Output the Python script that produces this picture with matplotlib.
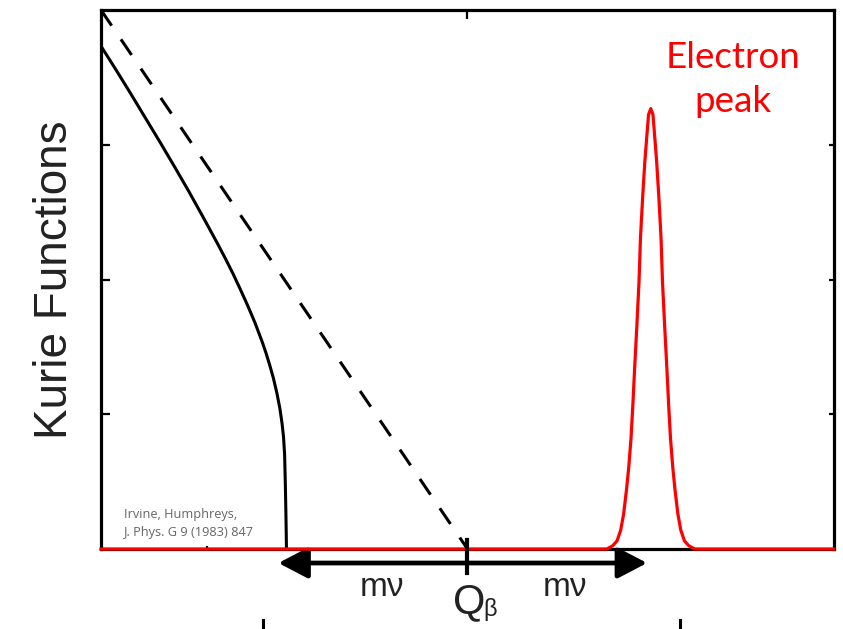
import matplotlib
matplotlib.use("Agg")
import matplotlib.pyplot as plt
from matplotlib.lines import Line2D

# Kurie function with non-zero neutrino mass (ends at Q - m_nu)
kurie_E = [0.000, 0.020, 0.040, 0.060, 0.080, 0.100, 0.120, 0.140, 0.160, 0.170,
           0.180, 0.190, 0.200, 0.210, 0.220, 0.225, 0.230, 0.235, 0.240, 0.244,
           0.247, 0.249, 0.2505, 0.2515, 0.2522, 0.2527, 0.2530]
kurie_K = [0.933, 0.890, 0.846, 0.801, 0.756, 0.710, 0.663, 0.614, 0.564, 0.538,
           0.511, 0.482, 0.452, 0.420, 0.384, 0.364, 0.342, 0.318, 0.289, 0.261,
           0.233, 0.208, 0.175, 0.120, 0.070, 0.030, 0.000]

# massless case: straight line down to Q_beta
massless_E = [0.0, 0.5]
massless_K = [1.0, 0.0]

# electron peak at Q + m_nu
peak_E = [0.000,
          0.690, 0.698, 0.704, 0.709, 0.713, 0.717, 0.720, 0.723, 0.7255,
          0.728, 0.731, 0.734, 0.736, 0.739, 0.742, 0.745, 0.747, 0.750,
          0.753, 0.755, 0.758, 0.761, 0.764, 0.766, 0.769, 0.772, 0.7745,
          0.777, 0.780, 0.783, 0.787, 0.791, 0.796, 0.802, 0.810,
          1.000]
peak_K = [0.000,
          0.000, 0.006, 0.015, 0.035, 0.065, 0.111, 0.152, 0.204, 0.265,
          0.335, 0.413, 0.496, 0.578, 0.654, 0.720, 0.772, 0.806, 0.817,
          0.806, 0.772, 0.720, 0.654, 0.578, 0.496, 0.413, 0.335, 0.265,
          0.204, 0.152, 0.111, 0.065, 0.035, 0.015, 0.006, 0.000,
          0.000]

Q_beta = 0.5
arrow_ends = [0.242, 0.745]
yticks = [0.25, 0.5, 0.75]

W, H = 843, 629
fig = plt.figure(figsize=(W / 100, H / 100), dpi=100)
ax = fig.add_axes([101 / W, (H - 549) / H, 733 / W, 539 / H])
ax.set_xlim(0, 1)
ax.set_ylim(0, 1)

for s in ax.spines.values():
    s.set_linewidth(2.3)
    s.set_color('black')

ax.set_xticks([0.145])
ax.set_yticks(yticks)
ax.tick_params(axis='both', direction='in', labelbottom=False, labelleft=False,
               width=1.6, length=6.5)
ax.tick_params(axis='x', length=2.5)

top = ax.secondary_xaxis('top')
top.set_xticks([Q_beta])
top.tick_params(direction='in', length=6.5, width=1.6, labeltop=False)
top.spines['top'].set_visible(False)

right = ax.secondary_yaxis('right')
right.set_yticks(yticks)
right.tick_params(direction='in', length=3.8, width=1.6, labelright=False)
right.spines['right'].set_visible(False)

ax.plot(massless_E, massless_K, color='black', lw=2.2, dashes=(6.2, 5.4),
        solid_capstyle='butt', dash_capstyle='butt', zorder=3)
ax.plot(kurie_E, kurie_K, color='black', lw=2.2, zorder=3)
ax.plot(peak_E, peak_K, color='#ff0000', lw=2.3, clip_on=False, zorder=4)

# m_nu arrows and Q_beta marker under the axis
ya = -0.026
for xe in arrow_ends:
    ax.annotate('', xy=(xe, ya), xytext=(Q_beta, ya), xycoords='data',
                annotation_clip=False,
                arrowprops=dict(arrowstyle='-|>,head_length=0.9,head_width=0.47',
                                mutation_scale=20, lw=3.4, color='black',
                                shrinkA=0, shrinkB=0))
ax.plot([Q_beta, Q_beta], [0.017, -0.045], color='black', lw=3.0,
        clip_on=False, zorder=5)

lab = dict(family='Liberation Sans', color='#222222')
ax.text(0.383, -0.088, 'm\u03bd', ha='center', va='baseline',
        fontsize=24, **lab)
ax.text(0.633, -0.088, 'm\u03bd', ha='center', va='baseline',
        fontsize=24, **lab)
ax.text(0.502, -0.120, 'Q', ha='center', va='baseline',
        fontsize=30, **lab)
ax.text(0.522, -0.124, '\u03b2', ha='left', va='baseline',
        fontsize=17, **lab)

ax.text(0.862, 0.892, 'Electron', ha='center', va='baseline', color='#ff0000',
        family='Lato', fontsize=26.5)
ax.text(0.862, 0.811, 'peak', ha='center', va='baseline', color='#ff0000',
        family='Lato', fontsize=26.5)

ax.text(0.032, 0.057, 'Irvine, Humphreys,', ha='left', va='baseline',
        color='#666666', family='Open Sans', fontsize=9.2)
ax.text(0.032, 0.024, 'J. Phys. G 9 (1983) 847', ha='left', va='baseline',
        color='#666666', family='Open Sans', fontsize=9.2)

fig.text(55 / W, 1 - 280 / H, 'Kurie Functions', rotation=90, ha='center',
         va='center', fontsize=33, **lab)

# short marks along the lower edge
for px in (263, 680):
    fig.add_artist(Line2D([px / W, px / W], [0, 9 / H], color='black', lw=2.2))

fig.savefig('out.png', dpi=100)
